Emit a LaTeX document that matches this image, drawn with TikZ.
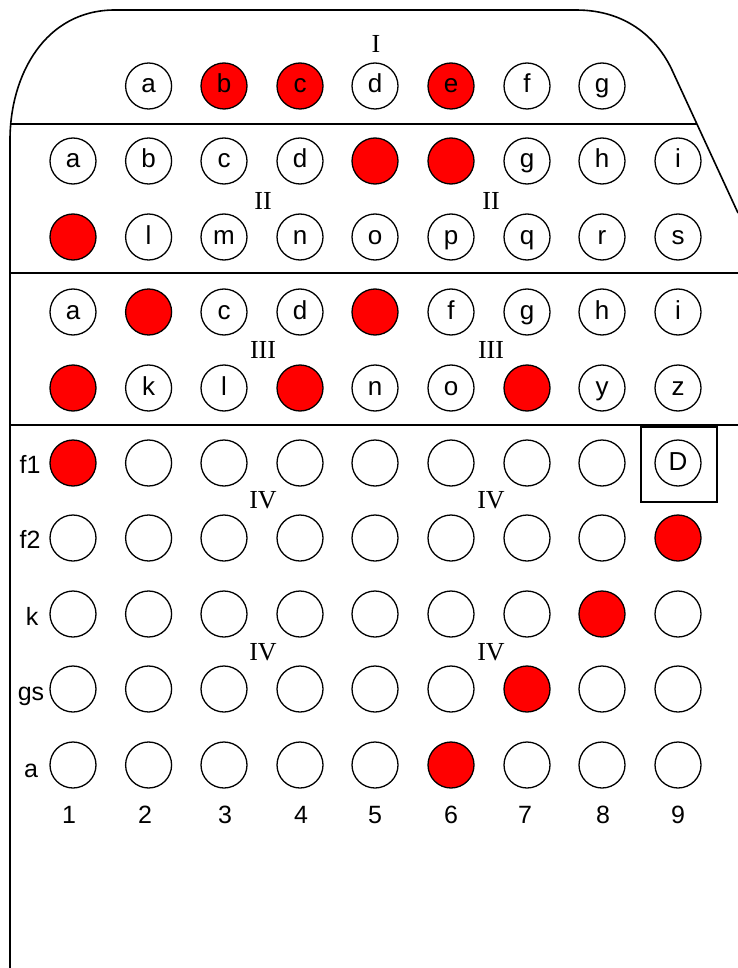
\documentclass[tikz,border=0pt]{standalone}
\usepackage{fontspec}
\setmainfont{Liberation Serif}
\setsansfont{Liberation Sans}
\begin{document}
\begin{tikzpicture}[x=1pt,y=-1pt,
  outline/.style={line width=1.6pt, line join=round},
  dot/.style={circle, draw, line width=1.3pt, minimum size=46pt, inner sep=0pt,
    text height=14pt, text depth=0pt,
    font=\sffamily\fontsize{26}{26}\selectfont},
  rdot/.style={dot, fill=red},
  roman/.style={font=\rmfamily\fontsize{26}{26}\selectfont, inner sep=0pt},
  rowlab/.style={font=\sffamily\fontsize{25}{25}\selectfont, inner sep=0pt, anchor=base},
  collab/.style={font=\sffamily\fontsize{25}{25}\selectfont, inner sep=0pt, anchor=base},
  dbox/.style={draw, line width=1.3pt, minimum width=76pt, minimum height=75pt, inner sep=0pt}]
\useasboundingbox (0,0) rectangle (738,968);
% outline
\draw[outline] (10,968) -- (10,140) .. controls (10,75) and (45,10) .. (115,10)
  -- (576,10) .. controls (628,10) and (658,40) .. (672,70) -- (738,213);
\draw[outline] (10,124) -- (697,124);
\draw[outline] (10,273) -- (738,273);
\draw[outline] (10,425) -- (738,425);
% column positions
\def\cA{73}\def\cB{148.6}\def\cC{224}\def\cD{300}\def\cE{375}
\def\cF{451}\def\cG{527}\def\cH{602}\def\cI{678}
% section I
\node[roman] (numI) at (376,44) {I};
\node[dot]  (Ia) at (\cB,86) {a};
\node[rdot] (Ib) at (\cC,86) {b};
\node[rdot] (Ic) at (\cD,86) {c};
\node[dot]  (Id) at (\cE,86) {d};
\node[rdot] (Ie) at (\cF,86) {e};
\node[dot]  (If) at (\cG,86) {f};
\node[dot]  (Ig) at (\cH,86) {g};
% section II
\node[roman] (numIIa) at (263,201) {II};
\node[roman] (numIIb) at (491,201) {II};
\node[dot]  (IIa) at (\cA,161) {a};
\node[dot]  (IIb) at (\cB,161) {b};
\node[dot]  (IIc) at (\cC,161) {c};
\node[dot]  (IId) at (\cD,161) {d};
\node[rdot] (IIe) at (\cE,161) {};
\node[rdot] (IIf) at (\cF,161) {};
\node[dot]  (IIg) at (\cG,161) {g};
\node[dot]  (IIh) at (\cH,161) {h};
\node[dot]  (IIi) at (\cI,161) {i};
\node[rdot] (IIk) at (\cA,237) {};
\node[dot]  (IIl) at (\cB,237) {l};
\node[dot]  (IIm) at (\cC,237) {m};
\node[dot]  (IIn) at (\cD,237) {n};
\node[dot]  (IIo) at (\cE,237) {o};
\node[dot]  (IIp) at (\cF,237) {p};
\node[dot]  (IIq) at (\cG,237) {q};
\node[dot]  (IIr) at (\cH,237) {r};
\node[dot]  (IIs) at (\cI,237) {s};
% section III
\node[roman] (numIIIa) at (263,350) {III};
\node[roman] (numIIIb) at (491,350) {III};
\node[dot]  (IIIa) at (\cA,312) {a};
\node[rdot] (IIIb) at (\cB,312) {};
\node[dot]  (IIIc) at (\cC,312) {c};
\node[dot]  (IIId) at (\cD,312) {d};
\node[rdot] (IIIe) at (\cE,312) {};
\node[dot]  (IIIf) at (\cF,312) {f};
\node[dot]  (IIIg) at (\cG,312) {g};
\node[dot]  (IIIh) at (\cH,312) {h};
\node[dot]  (IIIi) at (\cI,312) {i};
\node[rdot] (IIIj) at (\cA,388) {};
\node[dot]  (IIIk) at (\cB,388) {k};
\node[dot]  (IIIl) at (\cC,388) {l};
\node[rdot] (IIIm) at (\cD,388) {};
\node[dot]  (IIIn) at (\cE,388) {n};
\node[dot]  (IIIo) at (\cF,388) {o};
\node[rdot] (IIIx) at (\cG,388) {};
\node[dot]  (IIIy) at (\cH,388) {y};
\node[dot]  (IIIz) at (\cI,388) {z};
% section IV
\node[roman] (numIVa) at (263,500) {IV};
\node[roman] (numIVb) at (491,500) {IV};
\node[roman] (numIVc) at (263,652) {IV};
\node[roman] (numIVd) at (491,652) {IV};
\node[rowlab] (lf1) at (30,473) {f1};
\node[rowlab] (lf2) at (30,548) {f2};
\node[rowlab] (lk)  at (32,625) {k};
\node[rowlab] (lgs) at (31,700) {gs};
\node[rowlab] (la)  at (31,777) {a};
\foreach \r/\y/\red in {1/463/1, 2/538/9, 3/614/8, 4/689/7, 5/765/6} {
  \foreach \c/\x in {1/\cA,2/\cB,3/\cC,4/\cD,5/\cE,6/\cF,7/\cG,8/\cH,9/\cI} {
    \ifnum\c=\red
      \node[rdot] (g\r-\c) at (\x,\y) {};
    \else
      \ifnum\r=1 \ifnum\c=9
        \node[dot] (g\r-\c) at (\x,\y) {D};
      \else
        \node[dot] (g\r-\c) at (\x,\y) {};
      \fi
      \else
        \node[dot] (g\r-\c) at (\x,\y) {};
      \fi
    \fi
  }
}
\node[dbox] (box) at (679,464.5) {};
% column labels
\foreach \c/\x in {1/69,2/145,3/225,4/301,5/375,6/451,7/525,8/603,9/678}
  \node[collab] (n\c) at (\x,823) {\c};
\end{tikzpicture}
\end{document}
